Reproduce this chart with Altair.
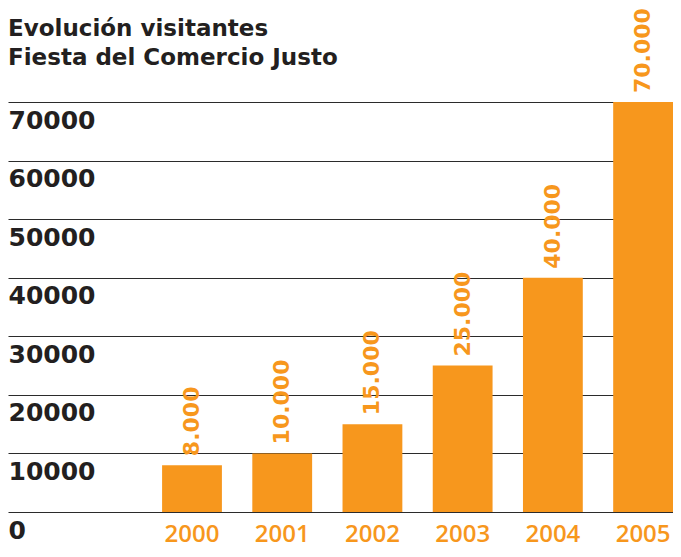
import altair as alt
import pandas as pd

YEARS = ["2000", "2001", "2002", "2003", "2004", "2005"]
VISITORS = [8000, 10000, 15000, 25000, 40000, 70000]
VALUE_LABELS = ["8.000", "10.000", "15.000", "25.000", "40.000", "70.000"]
Y_TICKS = [0, 10000, 20000, 30000, 40000, 50000, 60000, 70000]
TITLE_TEXT = "Evolución visitantes\nFiesta del Comercio Justo"

ORANGE = "#F7971D"
INK = "#231F20"

df = pd.DataFrame({"year": YEARS, "visitors": VISITORS, "label": VALUE_LABELS})
title_df = pd.DataFrame({"t": [TITLE_TEXT]})

x_enc = alt.X(
    "year:N",
    sort=YEARS,
    scale=alt.Scale(paddingInner=0.337, paddingOuter=0.854, align=1),
    axis=alt.Axis(
        title=None, domain=False, ticks=False, labelAngle=0, grid=False,
        labelColor=ORANGE, labelFont="Open Sans", labelFontWeight=600,
        labelFontSize=24, labelPadding=10,
    ),
)
y_enc = alt.Y(
    "visitors:Q",
    scale=alt.Scale(domain=[0, 70000], nice=False),
    axis=alt.Axis(
        title=None, values=Y_TICKS, format="d", domain=False, ticks=False,
        tickSize=0, labelAlign="left", labelBaseline="top", labelOffset=6,
        labelPadding=0, labelFont="DejaVu Sans", labelFontWeight="bold",
        labelFontSize=25, labelColor=INK, labelOverlap=False, labelFlush=False,
        grid=True, gridColor="#2b2b2b", gridWidth=1.2, gridOpacity=1,
    ),
)

bars = alt.Chart(df).mark_bar(color=ORANGE).encode(x=x_enc, y=y_enc)

labels = alt.Chart(df).mark_text(
    angle=270, align="left", baseline="middle", dx=9,
    font="DejaVu Sans", fontWeight="bold", fontSize=22, color=ORANGE,
).encode(x=alt.X("year:N", sort=YEARS), y="visitors:Q", text="label:N")

title = alt.Chart(title_df).mark_text(
    align="left", baseline="alphabetic", lineBreak="\n", lineHeight=29,
    font="DejaVu Sans", fontWeight="bold", fontSize=23, color=INK,
).encode(text="t:N", x=alt.value(0), y=alt.value(-66))

chart = alt.layer(bars, labels, title).properties(
    width=665,
    height=410,
    padding={"left": 0, "top": 94, "right": 0, "bottom": 37},
    autosize=alt.AutoSizeParams(type="none"),
).configure_view(stroke=None)

chart.save("out.html", embed_options={"renderer": "svg", "actions": False})
